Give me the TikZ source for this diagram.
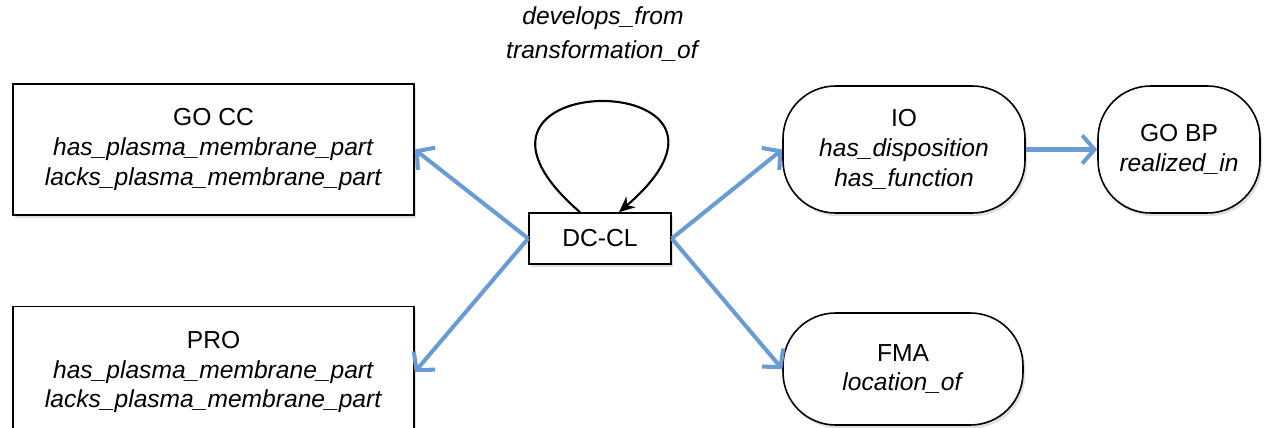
\documentclass[tikz,border=0pt]{standalone}
\usepackage{fontspec}
\setmainfont{Liberation Sans}
\usetikzlibrary{arrows.meta,shadows}
\definecolor{linkblue}{RGB}{106,155,210}
\tikzset{
	termbox/.style={draw, line width=0.9pt, fill=white, align=center, inner sep=0pt,
		drop shadow={opacity=0.25, shadow xshift=1.2pt, shadow yshift=-1.8pt}},
	ontobox/.style={termbox, rounded corners=1.05cm},
	link/.style={draw=linkblue, line width=2.3pt, -{Straight Barb[length=7pt,width=16pt,line width=2.3pt]}}
}

\begin{document}
\begin{tikzpicture}[x=0.02cm, y=-0.02cm, font=\fontsize{14}{17}\selectfont]
		%%%%% START %%%%%
		
		\clip (0, 0) rectangle (1264, 428);
		
		\node[termbox, minimum width=8.02cm, minimum height=2.62cm] (gocc) at (213.5, 149.5) {GO CC\\ \textit{has\_plasma\_membrane\_part}\\ \textit{lacks\_plasma\_membrane\_part}};
		\node[termbox, minimum width=8.02cm, minimum height=2.62cm] (pro) at (213.5, 372) {PRO\\ \textit{has\_plasma\_membrane\_part}\\ \textit{lacks\_plasma\_membrane\_part}};
		
		\node[termbox, minimum width=2.84cm, minimum height=1.02cm] (dccl) at (600, 238.5) {DC-CL};
		
		\node[ontobox, minimum width=4.84cm, minimum height=2.54cm] (io) at (904, 149.5) {IO\\ \textit{has\_disposition}\\ \textit{has\_function}};
		\node[ontobox, minimum width=3.24cm, minimum height=2.54cm] (gobp) at (1179, 149.5) {GO BP\\ \textit{realized\_in}};
		\node[ontobox, minimum width=4.8cm, minimum height=2.24cm] (fma) at (903, 369) {FMA\\ \textit{location\_of}};
		
		\node[align=center, font=\fontsize{14}{19}\selectfont] (looplabel) at (603, 34) {\textit{develops\_from}\\ \textit{transformation\_of}};
		
		% self loop
		\draw[line width=1.2pt, -{Stealth[length=9pt,width=8pt]}] ([xshift=-0.4cm]dccl.north) .. controls (410, 65) and (790, 65) .. ([xshift=0.38cm]dccl.north);
		
		\draw[link] (dccl.west) -- (gocc.east);
		\draw[link] (dccl.west) -- (pro.east);
		\draw[link] (dccl.east) -- (io.west);
		\draw[link] (dccl.east) -- (fma.west);
		\draw[link] (io.east) -- (gobp.west);
		
		%%%%% END %%%%%
	\end{tikzpicture}
\end{document}
